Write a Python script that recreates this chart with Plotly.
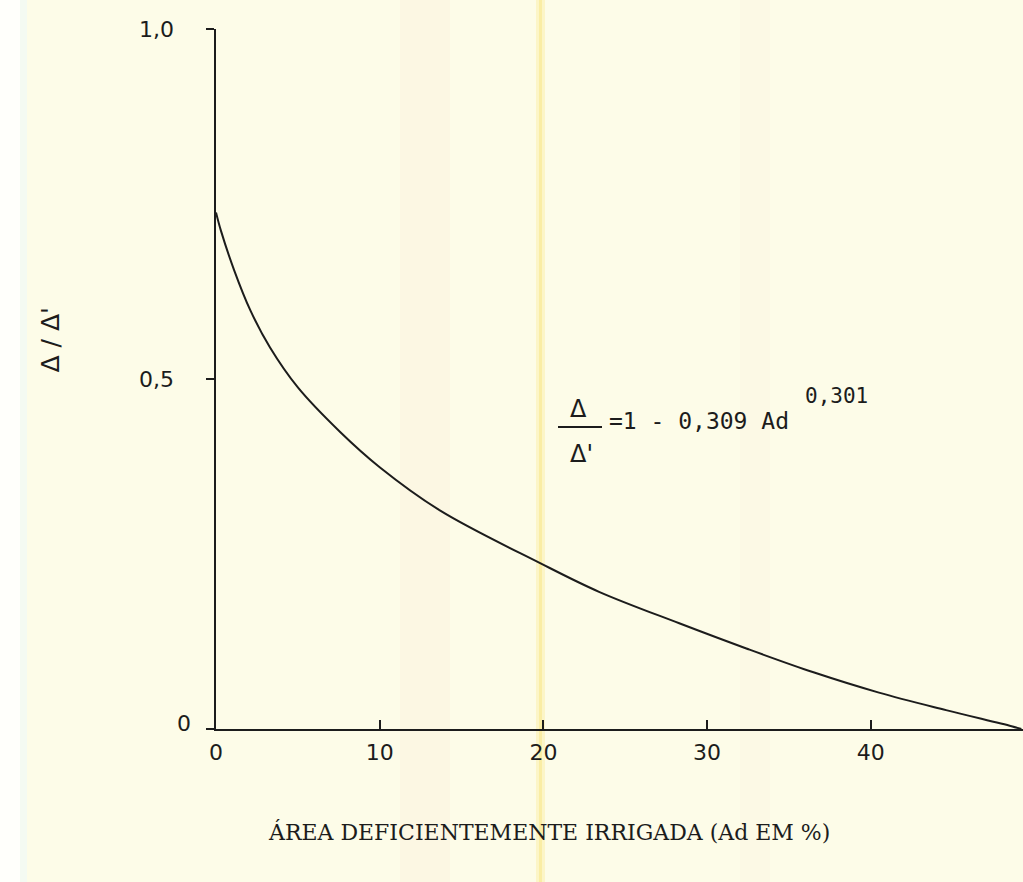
import plotly.graph_objects as go

# Data
ad_pct = [0, 0.3, 1.1, 2.1, 3.3, 5.0, 7.6, 10.0, 13.7, 19.8, 23.4, 28.3, 32.4, 36.5, 40.5, 44.6, 48.6, 49.2]
ratio = [0.738, 0.712, 0.656, 0.598, 0.545, 0.488, 0.424, 0.374, 0.312, 0.237, 0.196, 0.151, 0.115, 0.081, 0.052, 0.027, 0.004, 0.0]

x_tickvals = [0, 10, 20, 30, 40]
x_ticktext = ["0", "10", "20", "30", "40"]
y_tickvals = [0, 0.5, 1.0]
y_ticktext = ["0", "0,5", "1,0"]

BG = "#FDFCE8"
INK = "#1c1c1c"
NUM_FONT = "DejaVu Sans"
EQ_FONT = "DejaVu Sans Mono"
TXT_FONT = "DejaVu Serif"

# plot area in pixels
L, R, T, B = 216, 1023, 29, 729
W, H = R - L, B - T

def px(xp):
    return (xp - L) / W

def py(yp):
    return (B - yp) / H

fig = go.Figure()
fig.add_trace(go.Scatter(
    x=ad_pct, y=ratio, mode="lines",
    line=dict(color=INK, width=2, shape="spline", smoothing=1.0),
    hoverinfo="skip", showlegend=False,
))

shapes = []
# faint scan stripes
stripes = [(400, 450, "rgba(250,230,205,0.18)"), (536, 545, "rgba(250,238,160,0.45)"),
           (539, 542, "rgba(248,230,130,0.5)"), (740, 770, "rgba(245,235,215,0.15)"),
           (0, 20, "rgba(255,255,255,0.8)"), (20, 27, "rgba(238,248,248,0.6)")]
for x0, x1, c in stripes:
    shapes.append(dict(type="rect", xref="paper", yref="paper", x0=px(x0), x1=px(x1),
                       y0=py(882), y1=py(0), fillcolor=c, line=dict(width=0), layer="below"))
# fraction bar in equation
shapes.append(dict(type="line", xref="paper", yref="paper", x0=px(558), x1=px(602),
                   y0=py(427), y1=py(427), line=dict(color=INK, width=2)))

# y tick labels placed as in the original (the "0" sits closer to the axis, a bit raised)
ylab_right = {"0": 193, "0,5": 176, "1,0": 176}
ylab_shift = {"0": 6, "0,5": 0, "1,0": 0}

annotations = []
for v, t in zip(y_tickvals, y_ticktext):
    annotations.append(dict(text=t, x=px(ylab_right[t]), y=v, xref="paper", yref="paper",
                            xanchor="right", yanchor="middle", yshift=ylab_shift[t],
                            showarrow=False, font=dict(family=NUM_FONT, size=22, color=INK)))

annotations += [
    dict(text="Δ", x=px(578), y=py(409), xref="paper", yref="paper", showarrow=False,
         font=dict(family=NUM_FONT, size=24, color=INK)),
    dict(text="Δ'", x=px(581), y=py(454), xref="paper", yref="paper", showarrow=False,
         font=dict(family=NUM_FONT, size=24, color=INK)),
    dict(text="=1 - 0,309 Ad", x=px(607), y=py(421), xref="paper", yref="paper",
         xanchor="left", showarrow=False, font=dict(family=EQ_FONT, size=23, color=INK)),
    dict(text="0,301", x=px(803), y=py(396), xref="paper", yref="paper",
         xanchor="left", showarrow=False, font=dict(family=EQ_FONT, size=21, color=INK)),
    dict(text="Δ / Δ'", x=px(33), y=py(340), xref="paper", yref="paper", textangle=-90,
         showarrow=False, font=dict(family=NUM_FONT, size=25, color=INK)),
    dict(text="ÁREA DEFICIENTEMENTE IRRIGADA (Ad EM %)", x=px(549), y=py(847),
         xref="paper", yref="paper", showarrow=False,
         font=dict(family=TXT_FONT, size=22, color=INK)),
]

fig.update_layout(
    width=1023, height=882,
    margin=dict(l=L, r=1023 - R, t=T, b=882 - B),
    paper_bgcolor=BG, plot_bgcolor="rgba(0,0,0,0)",
    shapes=shapes, annotations=annotations,
    xaxis=dict(range=[0, 49.3], tickvals=x_tickvals, ticktext=x_ticktext,
               ticks="inside", ticklen=9, tickwidth=2, tickcolor=INK,
               showline=True, linecolor=INK, linewidth=2, showgrid=False, zeroline=False,
               ticklabelstandoff=3,
               tickfont=dict(family=NUM_FONT, size=22, color=INK)),
    yaxis=dict(range=[0, 1.0], tickvals=y_tickvals, showticklabels=False,
               ticks="outside", ticklen=8, tickwidth=2, tickcolor=INK,
               showline=True, linecolor=INK, linewidth=2, showgrid=False, zeroline=False),
)

fig.write_html("out.html")
